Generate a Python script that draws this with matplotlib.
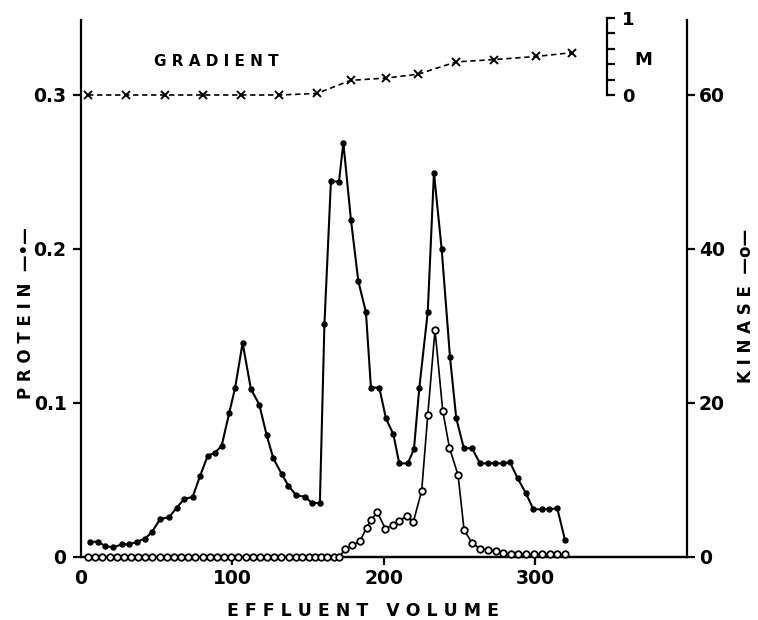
import matplotlib
matplotlib.use("Agg")
import matplotlib.pyplot as plt

plt.rcParams['font.family'] = ['DejaVu Sans']
plt.rcParams['font.weight'] = 'bold'

# ---------------- data ----------------
protein_x = [6.3, 11.8, 16.2, 21.7, 27.2, 32, 37.5, 42.6, 47, 52.5, 58.6, 63.5, 68.5, 74,
             78.9, 84, 88.8, 93.2, 98.2, 102, 107, 112.5, 118, 122.9, 127.3, 132.8, 137.2,
             142.2, 148.2, 152.6, 158, 161, 165.3, 170.6, 173.5, 178.5, 183.4, 188.4, 191.7,
             197.2, 201.6, 206.5, 210.4, 216, 220.1, 223.6, 229.2, 233.3, 238.4, 243.9, 248,
             253, 258.4, 263.7, 268.8, 273.6, 278.7, 283.5, 288.6, 294, 298.9, 304.4, 309.4,
             314.7, 319.8]
protein_y = [0.0099, 0.0099, 0.0071, 0.0063, 0.0082, 0.0082, 0.0099, 0.012, 0.016, 0.0245,
             0.026, 0.032, 0.0377, 0.039, 0.0526, 0.0658, 0.0677, 0.0723, 0.0937, 0.1095,
             0.139, 0.109, 0.099, 0.079, 0.064, 0.0539, 0.0463, 0.0403, 0.039, 0.0353, 0.0349,
             0.151, 0.244, 0.2437, 0.269, 0.219, 0.179, 0.159, 0.110, 0.110, 0.090, 0.0797,
             0.0608, 0.0608, 0.070, 0.1095, 0.159, 0.2495, 0.1998, 0.1297, 0.0903, 0.0706,
             0.0706, 0.0608, 0.0608, 0.0608, 0.0608, 0.0615, 0.051, 0.0414, 0.031, 0.031,
             0.031, 0.0316, 0.011]

kinase_x = [5, 9.7, 14.5, 19.2, 23.9, 28.6, 33.4, 38.1, 42.8, 47.5, 52.3, 57, 61.7, 66.4,
            71.2, 75.9, 80.6, 85.3, 90.1, 94.8, 99.5, 104.2, 109, 113.7, 118.4, 123.1, 127.9,
            132.6, 137.3, 142, 146.5, 150.6, 154.8, 159, 163, 167, 170.8,
            174.6, 179.4, 184.5, 188.9, 191.7, 195.9, 201.2, 206.5, 210.4, 215.3, 219.6,
            225.2, 229.2, 234, 239.1, 243.5, 249.2, 253.2, 258.6, 263.7, 269, 274, 279,
            284.2, 289, 294, 299.5, 304.8, 309.9, 314.7, 319.8]
kinase_y = [0, 0, 0, 0, 0, 0, 0, 0, 0, 0, 0, 0, 0, 0,
            0, 0, 0, 0, 0, 0, 0, 0, 0, 0, 0, 0, 0,
            0, 0, 0, 0, 0, 0, 0, 0, 0, 0,
            1.0, 1.5, 2.1, 3.8, 4.8, 5.8, 3.7, 4.2, 4.7, 5.3, 4.5,
            8.6, 18.4, 29.5, 19.0, 14.2, 10.65, 3.5, 1.78, 1.1, 0.9, 0.75, 0.48,
            0.4, 0.35, 0.35, 0.35, 0.35, 0.35, 0.35, 0.35]

gradient_x = [5, 30, 55.8, 81, 106, 131, 156, 178.3, 201.7, 222.8, 248, 273, 300.7, 324.4]
gradient_m = [0, 0, 0, 0, 0, 0, 0.02, 0.19, 0.22, 0.27, 0.43, 0.46, 0.50, 0.55]

x_ticks = [0, 100, 200, 300]
protein_ticks = [0, 0.1, 0.2, 0.3]
protein_labels = ['0', '0.1', '0.2', '0.3']
kinase_ticks = [0, 20, 40, 60]
m_ticks = [0, 0.2, 0.4, 0.6, 0.8, 1.0]
m_labels = ['0', '', '', '', '', '1']

# ---------------- layout ----------------
W, H = 758, 620
fig = plt.figure(figsize=(W / 100, H / 100), dpi=100)
fig.patch.set_facecolor('white')

x_left, x_right = 80.5, 686.5
y_top, y_bottom = 20, 557
ax = fig.add_axes([x_left / W, 1 - y_bottom / H, (x_right - x_left) / W, (y_bottom - y_top) / H])

XMAX = 400
PTOP = 0.3487
KFAC = 200.0          # kinase units per protein unit
MSCALE = 0.05         # protein units per 1 M on the gradient scale

lw_axis = 1.6
tick_fs = 13.5

ax.set_xlim(0, XMAX)
ax.set_ylim(0, PTOP)
for s in ['top', 'right']:
    ax.spines[s].set_visible(False)
for s in ['left', 'bottom']:
    ax.spines[s].set_linewidth(lw_axis)
ax.set_xticks(x_ticks)
ax.set_xticklabels([str(t) for t in x_ticks])
ax.set_yticks(protein_ticks)
ax.set_yticklabels(protein_labels)
ax.tick_params(axis='both', direction='out', length=6, width=lw_axis, labelsize=tick_fs)
ax.tick_params(axis='y', pad=4)
ax.tick_params(axis='x', pad=3)
ax.xaxis.get_major_ticks()[0].tick1line.set_visible(False)

ax.plot(protein_x, protein_y, color='black', lw=1.5, marker='o', ms=3.6,
        mfc='black', mec='black', zorder=3, clip_on=False)

# kinase axis
ax2 = ax.twinx()
ax2.set_ylim(0, PTOP * KFAC)
ax2.set_xlim(0, XMAX)
for s in ['top', 'left']:
    ax2.spines[s].set_visible(False)
ax2.spines['right'].set_linewidth(lw_axis)
ax2.spines['bottom'].set_linewidth(lw_axis)
ax2.set_yticks(kinase_ticks)
ax2.set_yticklabels([str(t) for t in kinase_ticks])
ax2.tick_params(axis='y', direction='out', length=6, width=lw_axis, labelsize=tick_fs, pad=3)
ax2.plot(kinase_x, kinase_y, color='black', lw=1.2, marker='o', ms=4.7, mfc='white',
         mec='black', mew=1.3, zorder=3, clip_on=False)

# gradient (M) plotted on its own scale aligned with the bracket
gax = ax.twinx()
gax.set_xlim(0, XMAX)
gax.set_ylim(-0.3 / MSCALE, (PTOP - 0.3) / MSCALE)
gax.axis('off')
gax.plot(gradient_x, gradient_m, color='black', lw=1.2, ls=(0, (3.2, 2.2)), marker='x',
         ms=6, mew=1.4, zorder=3, clip_on=False)

# bracket scale for M
ax_h = (y_bottom - y_top) / H
ax_b = 1 - y_bottom / H
b0 = ax_b + ax_h * 0.3 / PTOP
b1 = ax_b + ax_h * (0.3 + MSCALE) / PTOP
bax = fig.add_axes([607 / W - 0.0005, b0, 0.0005, b1 - b0])
bax.patch.set_visible(False)
for s in ['top', 'left', 'bottom']:
    bax.spines[s].set_visible(False)
bax.spines['right'].set_linewidth(lw_axis)
bax.set_xticks([])
bax.set_ylim(0, 1)
bax.yaxis.tick_right()
bax.set_yticks(m_ticks)
bax.set_yticklabels(m_labels)
bax.tick_params(axis='y', direction='out', length=6, width=lw_axis, labelsize=13, pad=5)

fig.text(643 / W, 1 - 60 / H, 'M', ha='center', va='center', fontsize=13, fontweight='bold')
fig.text(216 / W, 1 - 61.5 / H, 'G R A D I E N T', ha='center', va='center', fontsize=11,
         fontweight='bold')

# axis labels
fig.text(363 / W, 1 - 611 / H, 'E F F L U E N T   V O L U M E', ha='center', va='center',
         fontsize=12.5, fontweight='bold')
fig.text(26 / W, 1 - 313 / H, 'P R O T E I N  \u2014\u2022\u2014', ha='center',
         va='center', rotation=90, fontsize=12, fontweight='bold')
fig.text(746 / W, 1 - 306 / H, 'K I N A S E  \u2014o\u2014', ha='center', va='center',
         rotation=90, fontsize=12, fontweight='bold')

fig.savefig('out.png', dpi=100, facecolor='white')
